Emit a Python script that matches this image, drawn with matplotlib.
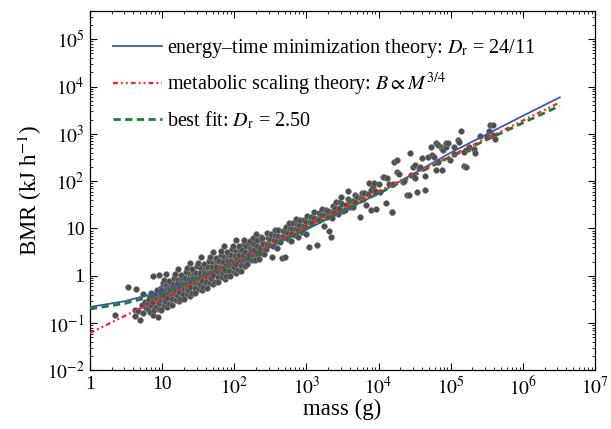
import numpy as np
import matplotlib
matplotlib.use('Agg')
import matplotlib.pyplot as plt
from matplotlib.ticker import LogLocator, NullFormatter

# model curves (mass in g, BMR in kJ/h)
blue_mass = [1, 3, 10, 30, 100, 1e3, 1e4, 1e5, 1e6, 3.25e6]
blue_bmr = [0.22, 0.29, 0.47, 0.9, 1.8, 9.5, 55, 400, 2400, 5900]
red_mass = [1, 3.25e6]
red_bmr = [0.062, 4600]
green_mass = [1, 3, 10, 30, 100, 1e3, 1e4, 1e5, 1e6, 3.25e6]
green_bmr = [0.20, 0.26, 0.42, 0.86, 1.85, 10, 55, 330, 1700, 3900]

# data cloud, read as log10(mass), log10(BMR)
low_pts = [(0.34, -0.83), (0.53, -0.24), (0.64, -0.27), (0.62, -0.72), (0.63, -0.84),
           (0.69, -0.93), (0.66, -0.75), (0.72, -0.62), (0.73, -0.78), (0.74, -0.38),
           (0.76, -0.55), (0.77, -0.68), (0.80, -0.58), (0.81, -0.70), (0.82, -0.48),
           (0.83, -0.77), (0.84, -0.36), (0.85, -0.62), (0.86, -0.45), (0.87, -0.82),
           (0.88, -0.01), (0.88, -0.55), (0.89, -0.72), (0.90, -0.40), (0.91, -0.66),
           (0.92, -0.50), (0.93, -0.30), (0.94, -0.86), (0.95, 0.02), (0.95, -0.58),
           (0.96, -0.70), (0.97, -0.44), (0.98, -0.25), (0.99, -0.52)]

# dense part: (log mass values, log BMR values) per narrow slice
mid_bins = [
    ([1.00, 1.02, 0.99, 1.03, 1.01, 0.98], [-0.41, -0.51, -0.29, -0.63, -0.16, -0.73]),
    ([1.05, 1.03, 1.06, 1.04, 1.02, 1.07, 1.05], [-0.33, -0.43, -0.20, -0.53, -0.08, -0.66, -0.30]),
    ([1.08, 1.10, 1.07, 1.11, 1.09, 1.06], [-0.37, -0.25, -0.47, -0.15, -0.60, 0.03]),
    ([1.11, 1.14, 1.12, 1.13, 1.10], [-0.29, -0.40, -0.17, -0.50, -0.10]),
    ([1.16, 1.18, 1.15, 1.19, 1.17, 1.14], [-0.29, -0.39, -0.17, -0.51, -0.04, -0.61]),
    ([1.21, 1.19, 1.22, 1.20, 1.18, 1.23, 1.21], [-0.21, -0.31, -0.08, -0.41, 0.04, -0.54, -0.18]),
    ([1.24, 1.26, 1.23, 1.27, 1.25, 1.22], [-0.25, -0.13, -0.35, -0.03, -0.48, 0.15]),
    ([1.27, 1.30, 1.28, 1.29, 1.26], [-0.17, -0.28, -0.05, -0.38, 0.02]),
    ([1.32, 1.34, 1.31, 1.35, 1.33, 1.30], [-0.17, -0.27, -0.05, -0.39, 0.08, -0.49]),
    ([1.37, 1.35, 1.38, 1.36, 1.34, 1.39, 1.37], [-0.09, -0.19, 0.04, -0.29, 0.16, -0.42, -0.06]),
    ([1.40, 1.42, 1.39, 1.43, 1.41, 1.38], [-0.13, -0.01, -0.23, 0.09, -0.36, 0.27]),
    ([1.43, 1.46, 1.44, 1.45, 1.42], [-0.05, -0.16, 0.07, -0.26, 0.14]),
    ([1.48, 1.50, 1.47, 1.51, 1.49, 1.46], [-0.05, -0.15, 0.07, -0.27, 0.20, -0.37]),
    ([1.53, 1.51, 1.54, 1.52, 1.50, 1.55, 1.53], [0.03, -0.07, 0.16, -0.17, 0.28, -0.30, 0.06]),
    ([1.56, 1.58, 1.55, 1.59, 1.57, 1.54], [-0.01, 0.11, -0.11, 0.21, -0.24, 0.39]),
    ([1.59, 1.62, 1.60, 1.61, 1.58], [0.07, -0.04, 0.19, -0.14, 0.26]),
    ([1.64, 1.66, 1.63, 1.67, 1.65, 1.62], [0.07, -0.03, 0.19, -0.15, 0.32, -0.25]),
    ([1.69, 1.67, 1.70, 1.68, 1.66, 1.71, 1.69], [0.15, 0.05, 0.28, -0.05, 0.40, -0.18, 0.18]),
    ([1.72, 1.74, 1.71, 1.75, 1.73, 1.70], [0.11, 0.23, 0.01, 0.33, -0.12, 0.51]),
    ([1.75, 1.78, 1.76, 1.77, 1.74], [0.19, 0.08, 0.31, -0.02, 0.38]),
    ([1.80, 1.82, 1.79, 1.83, 1.81, 1.78], [0.19, 0.09, 0.31, -0.03, 0.44, -0.13]),
    ([1.85, 1.83, 1.86, 1.84, 1.82, 1.87, 1.85], [0.27, 0.17, 0.40, 0.07, 0.52, -0.06, 0.30]),
    ([1.88, 1.90, 1.87, 1.91, 1.89, 1.86], [0.23, 0.35, 0.13, 0.45, 0.00, 0.63]),
    ([1.91, 1.94, 1.92, 1.93, 1.90], [0.31, 0.20, 0.43, 0.10, 0.50]),
    ([1.96, 1.98, 1.95, 1.99, 1.97, 1.94], [0.31, 0.21, 0.43, 0.09, 0.56, -0.01]),
    ([2.01, 1.99, 2.02, 2.00, 1.98, 2.03, 2.01], [0.39, 0.29, 0.52, 0.19, 0.64, 0.06, 0.42]),
    ([2.04, 2.06, 2.03, 2.07, 2.05, 2.02], [0.35, 0.47, 0.25, 0.57, 0.12, 0.75]),
    ([2.07, 2.10, 2.08, 2.09, 2.06], [0.43, 0.32, 0.55, 0.22, 0.62]),
    ([2.12, 2.14, 2.11, 2.15, 2.13, 2.10], [0.43, 0.33, 0.55, 0.21, 0.68, 0.11]),
    ([2.15, 2.18, 2.16, 2.17, 2.14], [0.51, 0.41, 0.64, 0.31, 0.76]),
    ([2.20, 2.22, 2.19, 2.21, 2.18], [0.47, 0.59, 0.37, 0.69, 0.24]),
    ([2.23, 2.26, 2.24, 2.25, 2.22], [0.55, 0.44, 0.67, 0.34, 0.74]),
    ([2.28, 2.30, 2.27, 2.29, 2.26], [0.55, 0.45, 0.67, 0.33, 0.80]),
    ([2.31, 2.34, 2.32, 2.33, 2.30], [0.63, 0.53, 0.76, 0.43, 0.88]),
    ([2.36, 2.38, 2.35, 2.37, 2.34], [0.59, 0.71, 0.49, 0.81, 0.36]),
    ([2.40, 2.42, 2.39, 2.41], [0.67, 0.56, 0.79, 0.46]),
    ([2.45, 2.47, 2.44, 2.46], [0.68, 0.80, 0.56, 0.90]),
    ([2.50, 2.48, 2.51, 2.52], [0.77, 0.66, 0.89, 0.39]),
    ([2.55, 2.57, 2.54, 2.56], [0.75, 0.87, 0.63, 0.97]),
    ([2.60, 2.58, 2.61, 2.59], [0.84, 0.73, 0.96, 0.59]),
    ([2.65, 2.67, 2.64, 2.66], [0.83, 0.95, 0.71, 0.37]),
    ([2.70, 2.68, 2.71, 2.70], [0.92, 0.81, 1.03, 0.40]),
    ([2.75, 2.77, 2.74, 2.76], [0.90, 1.02, 0.78, 1.12]),
    ([2.80, 2.78, 2.81, 2.79], [0.99, 0.88, 1.11, 0.74]),
    ([2.85, 2.87, 2.84, 2.86], [0.98, 1.10, 0.86, 1.20]),
    ([2.90, 2.88, 2.91, 2.89], [1.07, 0.96, 1.19, 0.82]),
    ([2.95, 2.97, 2.94], [1.05, 1.17, 0.93]),
    ([3.00, 2.98, 3.01, 2.99], [1.14, 1.03, 1.26, 0.89]),
    ([3.05, 3.07, 3.04], [1.13, 1.25, 0.61]),
    ([3.10, 3.08, 3.11], [1.22, 1.11, 1.34]),
    ([3.15, 3.17, 3.14], [1.20, 1.32, 0.65]),
    ([3.20, 3.18, 3.21], [1.29, 1.18, 1.41]),
    ([3.25, 3.27, 3.24], [1.28, 1.40, 1.05]),
    ([3.30, 3.28, 3.31], [1.36, 1.25, 0.95]),
    ([3.35, 3.37, 3.34, 3.36], [1.35, 1.47, 0.83, 1.22]),
    ([3.40, 3.38, 3.41], [1.44, 1.33, 1.56]),
    ([3.45, 3.47, 3.44], [1.43, 1.55, 1.30]),
    ([3.50, 3.48, 3.51], [1.51, 1.67, 1.38]),
    ([3.55, 3.57, 3.54], [1.50, 1.62, 1.40]),
    ([3.60, 3.58, 3.61], [1.59, 1.80, 1.46]),
    ([3.65, 3.67, 3.64], [1.58, 1.70, 1.45]),
    ([3.70, 3.68], [1.66, 1.55]),
    ([3.75, 3.74, 3.77], [1.65, 1.25, 1.75]),
    ([3.80, 3.82, 3.79], [1.74, 1.50, 1.62]),
    ([3.85, 3.87], [1.73, 1.96]),
    ([3.90, 3.89, 3.92], [1.81, 1.39, 1.89]),
    ([3.95, 3.97, 3.94], [1.80, 1.41, 1.97]),
    ([4.00, 4.02], [1.95, 1.78]),
]

high_pts = [(4.06, 2.08), (4.08, 2.08), (4.10, 1.53), (4.12, 2.06), (4.15, 1.95), (4.18, 1.35),
            (4.19, 1.35), (4.20, 1.95), (4.22, 2.41), (4.26, 2.19), (4.26, 2.45), (4.29, 2.16),
            (4.34, 1.99), (4.35, 2.00), (4.40, 1.70), (4.42, 1.70), (4.43, 2.59), (4.45, 2.12),
            (4.48, 2.30), (4.50, 2.06), (4.50, 2.35), (4.53, 1.78), (4.56, 2.27), (4.58, 2.30),
            (4.60, 2.50), (4.64, 1.81), (4.65, 2.10), (4.69, 2.52), (4.72, 2.73), (4.74, 2.55),
            (4.77, 2.52), (4.80, 2.24), (4.80, 2.80), (4.83, 2.41), (4.83, 2.77), (4.86, 2.73),
            (4.88, 2.69), (4.88, 2.23), (4.90, 2.65), (4.93, 2.72), (4.94, 2.80), (4.96, 2.80),
            (4.99, 2.45), (5.05, 2.58), (5.05, 2.73), (5.10, 2.87), (5.12, 2.82), (5.14, 3.06),
            (5.18, 2.62), (5.19, 2.33), (5.21, 2.30), (5.24, 2.69), (5.26, 2.73), (5.32, 2.69),
            (5.33, 2.60), (5.40, 2.95), (5.50, 2.95), (5.53, 3.05), (5.55, 3.18), (5.59, 3.19),
            (5.59, 2.98), (5.62, 2.90)]

log_mass = [p[0] for p in low_pts]
log_bmr = [p[1] for p in low_pts]
for xs, ys in mid_bins:
    log_mass.extend(xs)
    log_bmr.extend(ys)
for lx, ly in high_pts:
    log_mass.append(lx)
    log_bmr.append(ly)
mass = 10 ** np.array(log_mass)
bmr = 10 ** np.array(log_bmr)

x_ticks = [1, 10, 1e2, 1e3, 1e4, 1e5, 1e6, 1e7]
x_labels = ['1', '10', '$10^{2}$', '$10^{3}$', '$10^{4}$', '$10^{5}$', '$10^{6}$', '$10^{7}$']
y_ticks = [1e-2, 1e-1, 1, 10, 1e2, 1e3, 1e4, 1e5]
y_labels = ['$10^{-2}$', '$10^{-1}$', '1', '10', '$10^{2}$', '$10^{3}$', '$10^{4}$', '$10^{5}$']

plt.rcParams['font.family'] = ['Liberation Serif', 'DejaVu Serif']
plt.rcParams['mathtext.fontset'] = 'stix'

fig = plt.figure(figsize=(6.11, 4.29), dpi=100)
ax = fig.add_axes([0.1473, 0.1364, 0.8265, 0.8387])

ax.scatter(mass, bmr, s=18, c='#4d4d4d', edgecolors='#8c8c8c', linewidths=0.4, zorder=2)

ax.plot(blue_mass, blue_bmr, color='#3f57b0', lw=1.3, zorder=3,
        label='energy\u2013time minimization theory: $D_{\\mathrm{r}}$ = 24/11')
ax.plot(red_mass, red_bmr, color='#ff2020', lw=1.6, ls=(0, (2.2, 1.4, 0.8, 1.4, 0.8, 1.4)), zorder=4,
        label='metabolic scaling theory: $B \\propto M^{3/4}$')
ax.plot(green_mass, green_bmr, color='#1e7a3c', lw=2.0, ls=(0, (2.6, 1.6)), zorder=3,
        label='best fit: $D_{\\mathrm{r}}$ = 2.50')

ax.set_xscale('log')
ax.set_yscale('log')
ax.set_xlim(1, 1e7)
ax.set_ylim(1e-2, 4.0e5)
ax.set_xticks(x_ticks, x_labels)
ax.set_yticks(y_ticks, y_labels)
ax.xaxis.set_minor_locator(LogLocator(base=10, subs=np.arange(2, 10), numticks=30))
ax.yaxis.set_minor_locator(LogLocator(base=10, subs=np.arange(2, 10), numticks=30))
ax.xaxis.set_minor_formatter(NullFormatter())
ax.yaxis.set_minor_formatter(NullFormatter())
ax.tick_params(which='both', direction='in', top=True, right=True)
ax.tick_params(which='major', length=5, width=0.8, labelsize=14, pad=4)
ax.tick_params(which='minor', length=2.5, width=0.6)
for s in ax.spines.values():
    s.set_linewidth(0.9)

ax.set_xlabel('mass (g)', fontsize=16.5, labelpad=0)
ax.set_ylabel('BMR (kJ h$^{-1}$)', fontsize=16.5, labelpad=2)

ax.legend(loc='upper left', bbox_to_anchor=(0.029, 0.95), borderaxespad=0, frameon=False,
          fontsize=14.5, handlelength=2.45, handletextpad=0.25, labelspacing=0.56)

fig.savefig('out.png', dpi=100)
